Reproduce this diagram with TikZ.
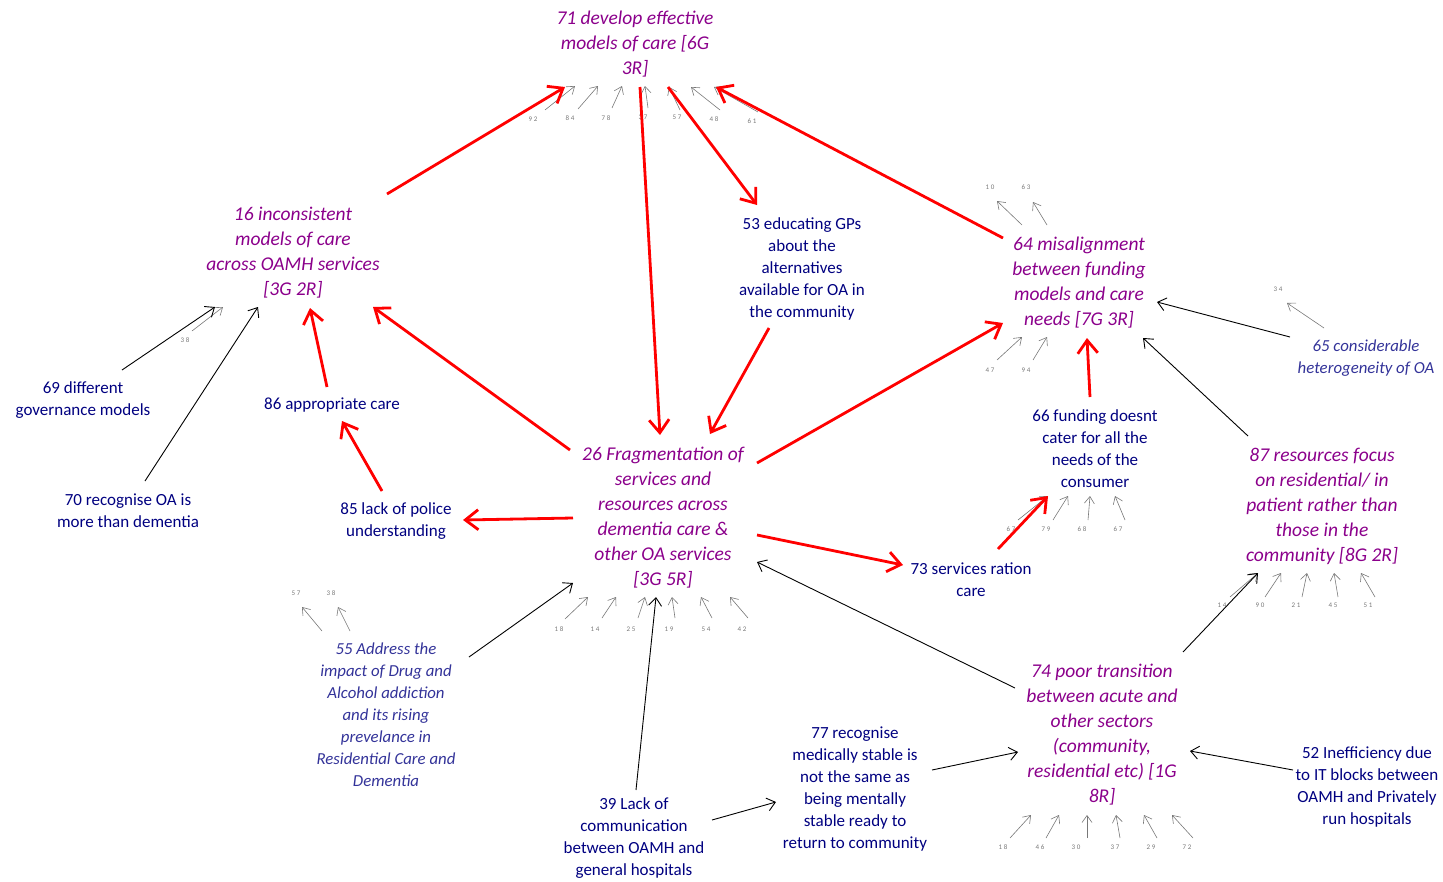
\documentclass[tikz,border=0pt]{standalone}
\usepackage{fontspec}
\setmainfont{Carlito}
\usetikzlibrary{arrows.meta}
\definecolor{pur}{RGB}{139,0,139}
\definecolor{nav}{RGB}{0,0,128}
\definecolor{ibl}{RGB}{51,51,153}
\definecolor{stg}{RGB}{120,120,120}
\tikzset{
  pnode/.style={inner sep=0pt,align=center,text=pur,font=\fontsize{19.5}{25}\selectfont\itshape},
  bnode/.style={inner sep=0pt,align=center,text=nav,font=\fontsize{17}{22}\selectfont},
  inode/.style={inner sep=0pt,align=center,text=ibl,font=\fontsize{16.8}{22}\selectfont\itshape},
  sl/.style={inner sep=0pt,text=stg,font=\fontsize{7}{8}\selectfont},
  redarr/.style={draw=red,line width=2.8pt,-{Straight Barb[length=13pt,width=20pt]}},
  blkarr/.style={draw=black,line width=0.9pt,-{Straight Barb[length=8pt,width=13pt]}},
  stub/.style={draw=stg,line width=0.6pt,-{Straight Barb[length=7pt,width=10pt]}}
}
\newcommand\stin[6]{\node[sl] (#1) at (#2) {#3}; \draw[stub] ([shift={(#4)}]#1.center) -- ([shift={(#6)}]#5.center);}
\newcommand\stout[6]{\node[sl] (#1) at (#2) {#3}; \draw[stub] ([shift={(#6)}]#5.center) -- ([shift={(#4)}]#1.center);}
\newcommand\lnk[5]{\draw[#1] ([shift={(#3)}]#2.center) -- ([shift={(#5)}]#4.center);}
\begin{document}
\begin{tikzpicture}[x=1pt,y=-1pt]
\useasboundingbox (0,0) rectangle (1443,881);
% main nodes
\node[pnode] (n71) at (635,44) {71 develop effective\\models of care [6G\\3R]};
\node[pnode] (n16) at (293,253) {16 inconsistent\\models of care\\across OAMH services\\{}[3G 2R]};
\node[bnode] (n53) at (802,268.5) {53 educating GPs\\about the\\alternatives\\available for OA in\\the community};
\node[pnode] (n64) at (1079,283) {64 misalignment\\between funding\\models and care\\needs [7G 3R]};
\node[inode] (n65) at (1366,358.5) {65 considerable\\heterogeneity of OA};
\node[bnode] (n69) at (83,400.5) {69 different\\governance models};
\node[bnode] (n86) at (332,405.5) {86 appropriate care};
\node[bnode] (n70) at (128,510.5) {70 recognise OA is\\more than dementia};
\node[bnode] (n85) at (396,521.5) {85 lack of police\\understanding};
\node[pnode] (n26) at (663,518) {26 Fragmentation of\\services and\\resources across\\dementia care \&\\other OA services\\{}[3G 5R]};
\node[bnode] (n66) at (1095,448.5) {66 funding doesnt\\cater for all the\\needs of the\\consumer};
\node[pnode] (n87) at (1322,506.5) {87 resources focus\\on residential/ in\\patient rather than\\those in the\\community [8G 2R]};
\node[bnode] (n73) at (971,579.5) {73 services ration\\care};
\node[inode] (n55) at (386,715) {55 Address the\\impact of Drug and\\Alcohol addiction\\and its rising\\prevelance in\\Residential Care and\\Dementia};
\node[pnode] (n74) at (1102,735) {74 poor transition\\between acute and\\other sectors\\(community,\\residential etc) [1G\\8R]};
\node[bnode] (n77) at (855,789) {77 recognise\\medically stable is\\not the same as\\being mentally\\stable ready to\\return to community};
\node[bnode] (n52) at (1367,787) {52 Inefficiency due\\to IT blocks between\\OAMH and Privately\\run hospitals};
\node[bnode] (n39) at (634,838) {39 Lack of\\communication\\between OAMH and\\general hospitals};
% stubs
\stin{s71a}{533,119}{9 2}{12,-9}{n71}{-60,42}
\stin{s71b}{570,118}{8 4}{8,-9}{n71}{-37,42}
\stin{s71c}{606,118}{7 8}{6,-10}{n71}{-13,42}
\stin{s71d}{643,117}{3 7}{5,-9}{n71}{10,42}
\stin{s71e}{677,117}{5 7}{3,-7}{n71}{34,43}
\stin{s71f}{714,119}{4 8}{6,-9}{n71}{56,43}
\stin{s71g}{752,121}{6 1}{6,-9}{n71}{79,43}
\stout{s64a}{990,187}{1 0}{7,14}{n64}{-57,-58}
\stout{s64b}{1026,187}{6 3}{7,15}{n64}{-32,-58}
\stin{s64c}{990,370}{4 7}{7,-10}{n64}{-57,54}
\stin{s64d}{1026,370}{9 4}{7,-10}{n64}{-32,54}
\stin{s16a}{185,340}{3 8}{7,-9}{n16}{-70,54}
\stout{s65a}{1278,289}{3 4}{9,14}{n65}{-42,-30.5}
\stout{s55a}{296,593}{5 7}{6,14}{n55}{-64,-84}
\stout{s55b}{331,593}{3 8}{7,14}{n55}{-36,-84}
\stin{s26a}{559,629}{1 8}{6,-10}{n26}{-75,79}
\stin{s26b}{595,629}{1 4}{7,-11}{n26}{-47,79}
\stin{s26c}{631,629}{2 5}{7,-11}{n26}{-18,79}
\stin{s26d}{669,629}{1 9}{6,-11}{n26}{9,79}
\stin{s26e}{706,629}{5 4}{6,-11}{n26}{38,79}
\stin{s26f}{742,629}{4 2}{6,-11}{n26}{67,79}
\stin{s66a}{1011,529}{6 7}{7,-9}{n66}{-47,47.5}
\stin{s66b}{1046,529}{7 9}{7,-9}{n66}{-27,47.5}
\stin{s66c}{1082,529}{6 8}{6,-9}{n66}{-5,47.5}
\stin{s66d}{1118,529}{6 7}{7,-9}{n66}{20,47.5}
\stin{s87a}{1222,605}{1 4}{8,-8}{n87}{-64,66.5}
\stin{s87b}{1260,605}{9 0}{5,-8}{n87}{-41,66.5}
\stin{s87c}{1296,605}{2 1}{6,-8}{n87}{-15,66.5}
\stin{s87d}{1333,605}{4 5}{5,-8}{n87}{12,66.5}
\stin{s87e}{1368,605}{5 1}{7,-8}{n87}{39,66.5}
\stin{s74a}{1003,847}{1 8}{7,-9}{n74}{-71,80}
\stin{s74b}{1040,847}{4 6}{6,-9}{n74}{-43,80}
\stin{s74c}{1076,847}{3 0}{11,-9}{n74}{-15,80}
\stin{s74d}{1115,847}{3 7}{5,-9}{n74}{14,80}
\stin{s74e}{1151,847}{2 9}{6,-9}{n74}{42,80}
\stin{s74f}{1187,847}{7 2}{6,-9}{n74}{70,80}
% red links
\lnk{redarr}{n16}{94,-59}{n71}{-70,43}
\lnk{redarr}{n71}{5,43}{n26}{-3,-83}
\lnk{redarr}{n71}{33,43}{n53}{-45,-63.5}
\lnk{redarr}{n64}{-76,-45}{n71}{81,43}
\lnk{redarr}{n26}{-93,-68}{n16}{80,54}
\lnk{redarr}{n86}{-5,-18.5}{n16}{17,55}
\lnk{redarr}{n85}{-14,-30.5}{n86}{10,15.5}
\lnk{redarr}{n53}{-33,59.5}{n26}{47,-84}
\lnk{redarr}{n26}{94,-55}{n64}{-76,40}
\lnk{redarr}{n66}{-5,-51.5}{n64}{8,55}
\lnk{redarr}{n26}{-90,0}{n85}{67,-1.5}
\lnk{redarr}{n26}{94,17}{n73}{-68,-14.5}
\lnk{redarr}{n73}{27,-30.5}{n66}{-47,47.5}
% black links
\lnk{blkarr}{n69}{39,-30.5}{n16}{-78,54}
\lnk{blkarr}{n70}{17,-29.5}{n16}{-35,54}
\lnk{blkarr}{n65}{-76,-21.5}{n64}{78,19}
\lnk{blkarr}{n87}{-74,-70.5}{n64}{64,55}
\lnk{blkarr}{n74}{-87,-47}{n26}{94,44}
\lnk{blkarr}{n55}{83,-58}{n26}{-90,65}
\lnk{blkarr}{n39}{2,-48}{n26}{-7,79}
\lnk{blkarr}{n39}{78,-18}{n77}{-79,13}
\lnk{blkarr}{n77}{77,-19}{n74}{-84,17}
\lnk{blkarr}{n52}{-74,-17}{n74}{88,16}
\lnk{blkarr}{n74}{81,-83}{n87}{-64,66.5}
\end{tikzpicture}
\end{document}
